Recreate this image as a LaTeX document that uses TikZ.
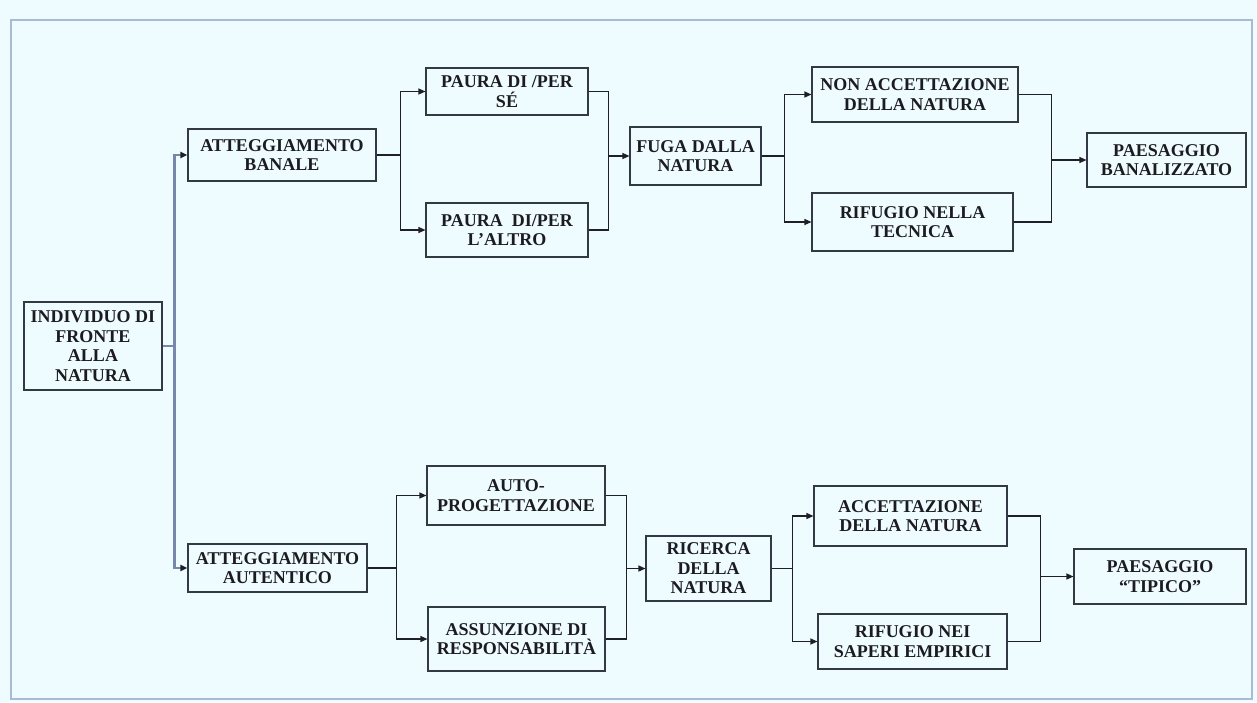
\documentclass[tikz,border=0pt]{standalone}
\usepackage{fontspec}
\setmainfont{Liberation Serif}
\usetikzlibrary{arrows.meta}
\definecolor{bgc}{RGB}{239,252,255}
\definecolor{framec}{RGB}{168,186,212}
\definecolor{boxc}{RGB}{50,56,68}
\definecolor{linec}{RGB}{30,32,38}
\definecolor{trunkc}{RGB}{120,136,172}
\definecolor{txtc}{RGB}{28,28,32}
\tikzset{
  box/.style={draw=boxc, line width=1.1pt, align=center, inner sep=2pt,
    text=txtc, font=\bfseries\fontsize{18}{19.5}\selectfont},
  conn/.style={draw=linec, line width=1.2pt},
  arr/.style={conn, -{Triangle[length=7pt,width=6pt]}},
  trunk/.style={draw=trunkc, line width=2.2pt},
  trunkarr/.style={trunk, -{Triangle[length=7pt,width=6pt,color=linec]}}
}
\begin{document}
\begin{tikzpicture}[x=1pt,y=-1pt]
\fill[bgc] (0,0) rectangle (1257,702);
\useasboundingbox (0,0) rectangle (1257,702);
\draw[framec, line width=1.8pt] (11,20) rectangle (1252,699);

% nodes
\node[box, minimum width=138pt, minimum height=88pt] (ind) at (93,346) {INDIVIDUO DI\\FRONTE\\ALLA\\NATURA};
\node[box, minimum width=188pt, minimum height=52pt] (ab) at (282,155) {ATTEGGIAMENTO\\BANALE};
\node[box, minimum width=162pt, minimum height=47pt] (ps) at (507,91.5) {PAURA DI /PER\\SÉ};
\node[box, minimum width=162pt, minimum height=54pt] (pa) at (507,230) {PAURA\ \ DI/PER\\L’ALTRO};
\node[box, minimum width=131pt, minimum height=58pt] (fuga) at (695.5,156) {FUGA DALLA\\NATURA};
\node[box, minimum width=206pt, minimum height=55pt] (nonacc) at (915,94.5) {NON ACCETTAZIONE\\DELLA NATURA};
\node[box, minimum width=201pt, minimum height=58pt] (rift) at (912.5,222) {RIFUGIO NELLA\\TECNICA};
\node[box, minimum width=159pt, minimum height=54pt] (pb) at (1166.5,160) {PAESAGGIO\\BANALIZZATO};

\node[box, minimum width=179pt, minimum height=48pt] (aut) at (277.5,568) {ATTEGGIAMENTO\\AUTENTICO};
\node[box, minimum width=178pt, minimum height=59pt] (autop) at (516,495.5) {AUTO-\\PROGETTAZIONE};
\node[box, minimum width=177pt, minimum height=64pt] (ass) at (516.5,639) {ASSUNZIONE DI\\RESPONSABILITÀ};
\node[box, minimum width=125pt, minimum height=65pt] (ric) at (708.5,568.5) {RICERCA\\DELLA\\NATURA};
\node[box, minimum width=193pt, minimum height=60pt] (acc) at (910.5,516) {ACCETTAZIONE\\DELLA NATURA};
\node[box, minimum width=189pt, minimum height=55pt] (rife) at (912.5,641.5) {RIFUGIO NEI\\SAPERI EMPIRICI};
\node[box, minimum width=172pt, minimum height=55pt] (pt) at (1160,576.5) {PAESAGGIO\\“TIPICO”};

% junction coordinates
\coordinate (t) at ([xshift=12pt]ind.east);
\coordinate (s1) at ([xshift=24pt]ab.east);
\coordinate (m1) at ([xshift=-21pt]fuga.west);
\coordinate (s2) at ([xshift=23pt]fuga.east);
\coordinate (m2) at ([xshift=-35pt]pb.west);
\coordinate (s3) at ([xshift=29pt]aut.east);
\coordinate (m3) at ([xshift=-19pt]ric.west);
\coordinate (s4) at ([xshift=21pt]ric.east);
\coordinate (m4) at ([xshift=-33pt]pt.west);

% trunk
\draw[trunk] (ind.east) -- (t);
\draw[trunkarr] (t) |- (ab.west);
\draw[trunkarr] (t) |- (aut.west);

% upper branch
\draw[conn] (ab.east) -- (s1);
\draw[arr] (s1) |- (ps.west);
\draw[arr] (s1) |- (pa.west);
\draw[conn] (ps.east) -| (m1);
\draw[conn] (pa.east) -| (m1);
\draw[arr] (m1) -- (fuga.west);
\draw[conn] (fuga.east) -- (s2);
\draw[arr] (s2) |- (nonacc.west);
\draw[arr] (s2) |- (rift.west);
\draw[conn] (nonacc.east) -| (m2);
\draw[conn] (rift.east) -| (m2);
\draw[arr] (m2) -- (pb.west);

% lower branch
\draw[conn] (aut.east) -- (s3);
\draw[arr] (s3) |- (autop.west);
\draw[arr] (s3) |- (ass.west);
\draw[conn] (autop.east) -| (m3);
\draw[conn] (ass.east) -| (m3);
\draw[arr] (m3) -- (ric.west);
\draw[conn] (ric.east) -- (s4);
\draw[arr] (s4) |- (acc.west);
\draw[arr] (s4) |- (rife.west);
\draw[conn] (acc.east) -| (m4);
\draw[conn] (rife.east) -| (m4);
\draw[arr] (m4) -- (pt.west);
\end{tikzpicture}
\end{document}
